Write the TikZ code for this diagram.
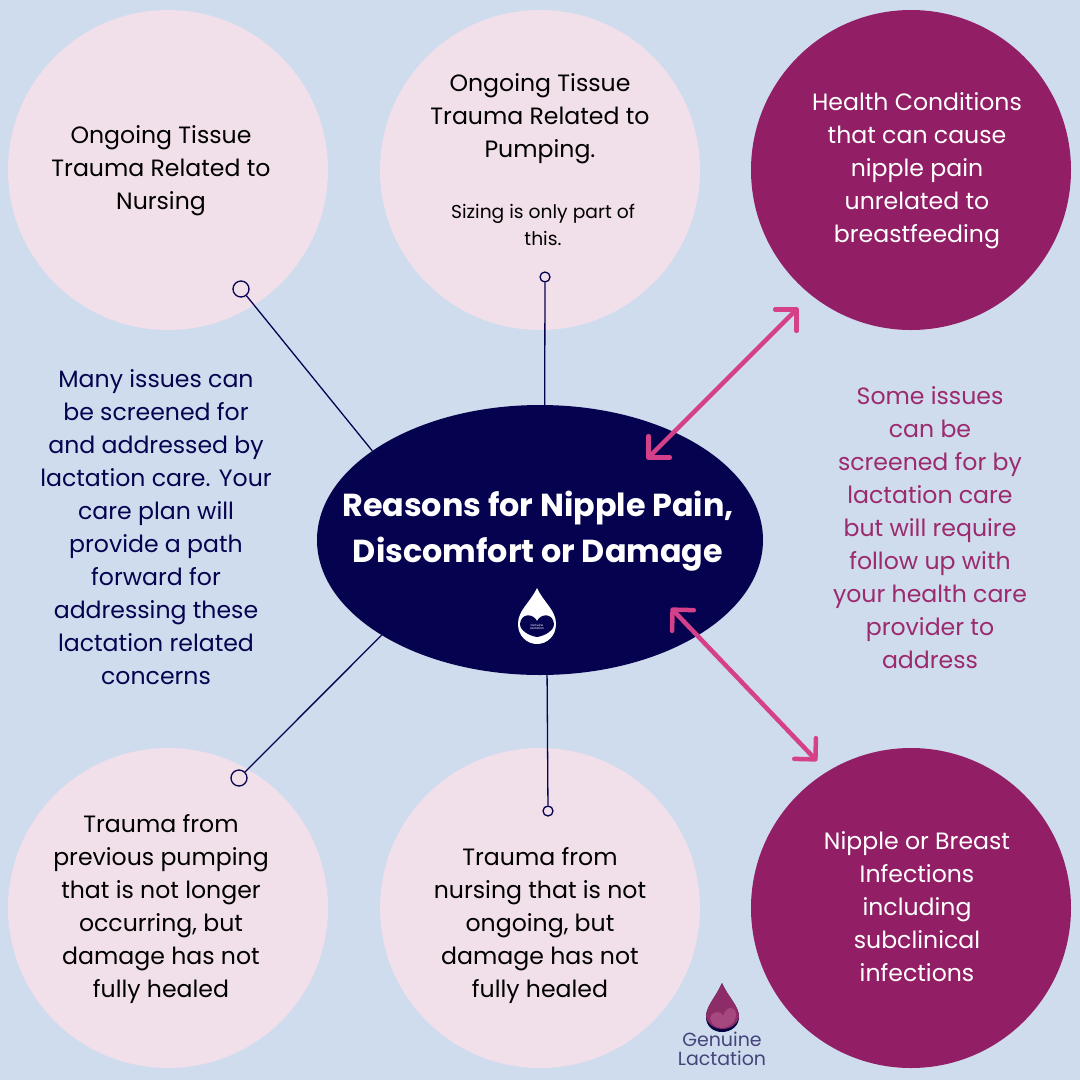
\documentclass[tikz,border=0pt]{standalone}
\usepackage{fontspec}
\usepackage{tikz}
\usetikzlibrary{arrows.meta, shapes.geometric}
\setmainfont{Poppins}
\definecolor{skyback}{HTML}{CFDCEE}
\definecolor{palerose}{HTML}{F1DFEA}
\definecolor{berry}{HTML}{921F66}
\definecolor{inkblue}{HTML}{05034F}
\definecolor{hotpink}{HTML}{D5408A}
\definecolor{berrytext}{HTML}{9B2A6E}
\definecolor{logotext}{HTML}{45457A}
\definecolor{logoheart}{HTML}{A5487F}
\definecolor{logodrop}{HTML}{8E2C68}
\tikzset{
  bodytext/.style={align=center, font=\fontsize{23.6}{33}\selectfont},
  palecircle/.style={circle, fill=palerose, minimum size=320pt, inner sep=0pt},
  berrycircle/.style={circle, fill=berry, minimum size=320pt, inner sep=0pt},
  endring/.style={circle, draw=inkblue, fill=palerose, line width=1.3pt, inner sep=0pt},
  linkline/.style={draw=inkblue, line width=1.3pt},
  pinkarrow/.style={draw=hotpink, line width=4.5pt, {Straight Barb[length=15pt, width=30pt, round]}-{Straight Barb[length=15pt, width=30pt, round]}}
}

\begin{document}
\begin{tikzpicture}[x=1pt, y=-1pt]
  \useasboundingbox (0,0) rectangle (1080,1080);
  \fill[skyback] (0,0) rectangle (1080,1080);

  \node[palecircle] (nursing) at (168,170) {};
  \node[palecircle] (pumping) at (540,170) {};
  \node[berrycircle] (health) at (911,170) {};
  \node[palecircle] (oldpump) at (168,908) {};
  \node[palecircle] (oldnurse) at (540,908) {};
  \node[berrycircle] (infect) at (911,908) {};

  \node[bodytext] (nursetitle) at (161,171) {Ongoing Tissue\\Trauma Related to\\Nursing};
  \node[bodytext] (pumptitle) at (540,119) {Ongoing Tissue\\Trauma Related to\\Pumping.};
  \node[align=center, font=\fontsize{18.7}{27}\selectfont] (sizing) at (543,225) {Sizing is only part of\\this.};
  \node[bodytext, text=white] (healthtitle) at (917,171) {Health Conditions\\that can cause\\nipple pain\\unrelated to\\breastfeeding};
  \node[bodytext] (oldpumptitle) at (161,909) {Trauma from\\previous pumping\\that is not longer\\occurring, but\\damage has not\\fully healed};
  \node[bodytext] (oldnursetitle) at (540,926) {Trauma from\\nursing that is not\\ongoing, but\\damage has not\\fully healed};
  \node[bodytext, text=white] (infecttitle) at (917,907) {Nipple or Breast\\Infections\\including\\subclinical\\infections};

  \node[ellipse, fill=inkblue, minimum width=446pt, minimum height=270pt, inner sep=0pt] (mainoval) at (540,540) {};
  \node[align=center, text=white, font=\fontsize{31.8}{46}\selectfont\bfseries] (maintitle) at (538,531) {Reasons for Nipple Pain,\\Discomfort or Damage};

  \node[bodytext, text=inkblue] (leftnote) at (156,527) {Many issues can\\be screened for\\and addressed by\\lactation care. Your\\care plan will\\provide a path\\forward for\\addressing these\\lactation related\\concerns};
  \node[bodytext, text=berrytext] (rightnote) at (930,528) {Some issues\\can be\\screened for by\\lactation care\\but will require\\follow up with\\your health care\\provider to\\address};

  % connectors with small rings
  \node[endring, minimum size=16pt] (ringa) at (241,289) {};
  \node[endring, minimum size=10pt] (ringb) at (545,277) {};
  \node[endring, minimum size=16pt] (ringc) at (239,778) {};
  \node[endring, minimum size=10pt] (ringd) at (548,811) {};
  \draw[linkline] (ringa) -- (mainoval.152);
  \draw[linkline] (ringb) -- (mainoval.88);
  \draw[linkline] (ringc) -- (mainoval.211);
  \draw[linkline] (ringd) -- (mainoval.273);

  % pink arrows
  \coordinate (toptip) at (798,308);
  \coordinate (topend) at (647,459);
  \coordinate (lowtip) at (817,761);
  \coordinate (lowend) at (671,608);
  \draw[pinkarrow] (topend) -- (toptip);
  \draw[pinkarrow] (lowend) -- (lowtip);

  % white drop in the oval
  \fill[white] (537,588) .. controls (530,603) and (518,610) .. (518,624) .. controls (518,636) and (527,644) .. (537,644) .. controls (547,644) and (556,636) .. (556,624) .. controls (556,610) and (544,603) .. (537,588) -- cycle;
  \fill[inkblue] (537,621) .. controls (533,613) and (521,613) .. (520,624) .. controls (520,631) and (530,636) .. (537,637) .. controls (544,636) and (554,631) .. (554,624) .. controls (553,613) and (541,613) .. (537,621) -- cycle;
  \draw[white, line width=0.8pt] (522,632) .. controls (530,640) and (545,640) .. (552,632);
  \node[text=white, align=center, font=\fontsize{3}{3.5}\selectfont] (droplabel) at (537,627) {Genuine\\Lactation};

  % logo at the bottom
  \fill[inkblue!85!black] (722,983) .. controls (716,997) and (706,1006) .. (706,1017) .. controls (706,1026) and (713,1032) .. (722,1032) .. controls (731,1032) and (739,1026) .. (739,1017) .. controls (739,1006) and (728,997) .. (722,983) -- cycle;
  \fill[logodrop] (722,983) .. controls (716,997) and (706,1006) .. (706,1017) .. controls (708,1025) and (715,1029) .. (722,1029) .. controls (730,1029) and (737,1025) .. (739,1017) .. controls (739,1006) and (728,997) .. (722,983) -- cycle;
  \fill[logoheart] (723,1016) .. controls (720,1009) and (711,1012) .. (710,1018) .. controls (711,1024) and (716,1028) .. (722,1028) .. controls (729,1028) and (736,1022) .. (736,1014) .. controls (735,1005) and (726,1006) .. (723,1016) -- cycle;
  \node[text=logotext, align=center, font=\fontsize{19}{19}\selectfont] (logoname) at (722,1049) {Genuine\\Lactation};
\end{tikzpicture}
\end{document}
